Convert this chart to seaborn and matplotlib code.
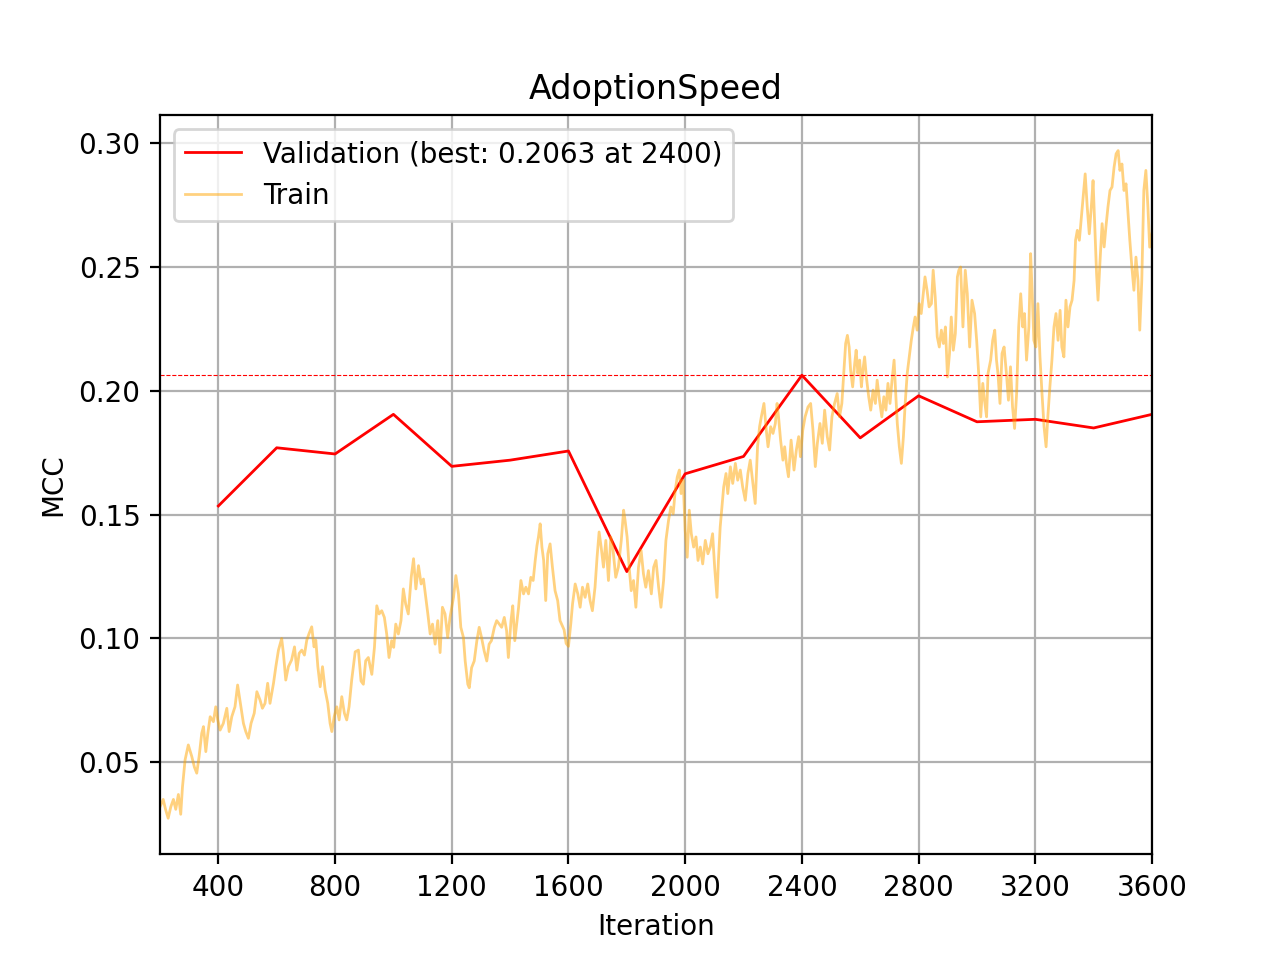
import matplotlib
matplotlib.use("Agg")
import matplotlib.pyplot as plt
import seaborn as sns

# validation MCC, evaluated every 200 iterations
val_iter = [400, 600, 800, 1000, 1200, 1400, 1600, 1800, 2000, 2200,
            2400, 2600, 2800, 3000, 3200, 3400, 3600]
val_mcc = [0.1535, 0.177, 0.1745, 0.1905, 0.1695, 0.172, 0.1757, 0.127, 0.1665,
           0.1735, 0.2063, 0.181, 0.198, 0.1875, 0.1885, 0.185, 0.1905]
best_mcc = 0.2063
best_iter = 2400

# train MCC
train_iter = [
    200, 211, 219, 228, 237, 246, 254, 263, 271, 277, 286, 297, 309, 318, 326, 334,
    343, 349, 357, 364, 372, 383, 391, 398, 406, 417, 429, 437, 446, 457, 466, 474,
    486, 494, 503, 512, 523, 532, 543, 551, 560, 569, 577, 589, 597, 606, 617, 623,
    631, 640, 651, 661, 669, 677, 686, 695, 703, 711, 720, 728, 734, 741, 749, 757,
    766, 775, 783, 789, 797, 806, 814, 823, 832, 840, 848, 857, 869, 880, 889, 897,
    905, 914, 926, 935, 943, 951, 960, 969, 977, 985, 994, 1001, 1008, 1017, 1026,
    1034, 1042, 1051, 1061, 1069, 1077, 1086, 1095, 1103, 1111, 1118, 1126, 1134,
    1143, 1152, 1160, 1168, 1177, 1186, 1194, 1206, 1214, 1223, 1231, 1240, 1246,
    1255, 1260, 1268, 1277, 1286, 1294, 1302, 1311, 1320, 1328, 1336, 1346, 1354,
    1363, 1371, 1380, 1388, 1394, 1403, 1409, 1416, 1429, 1437, 1446, 1454, 1463,
    1471, 1479, 1486, 1492, 1497, 1503, 1509, 1515, 1522, 1529, 1537, 1545, 1554,
    1563, 1571, 1585, 1592, 1600, 1608, 1614, 1623, 1632, 1640, 1648, 1657, 1666,
    1674, 1682, 1691, 1698, 1705, 1712, 1720, 1728, 1737, 1745, 1753, 1762, 1771,
    1781, 1789, 1794, 1801, 1808, 1815, 1823, 1831, 1840, 1849, 1857, 1865, 1874,
    1884, 1892, 1900, 1909, 1917, 1926, 1934, 1943, 1951, 1959, 1966, 1973, 1980,
    1986, 1993, 2000, 2007, 2014, 2021, 2029, 2037, 2044, 2052, 2060, 2069, 2078,
    2086, 2094, 2101, 2109, 2114, 2120, 2126, 2132, 2140, 2146, 2155, 2163, 2172,
    2180, 2189, 2197, 2206, 2215, 2223, 2231, 2240, 2248, 2255, 2261, 2270, 2278,
    2284, 2293, 2301, 2309, 2315, 2320, 2327, 2335, 2341, 2347, 2354, 2363, 2373,
    2381, 2389, 2395, 2403, 2411, 2421, 2430, 2438, 2446, 2453, 2462, 2470, 2478,
    2487, 2495, 2503, 2512, 2521, 2529, 2537, 2544, 2550, 2556, 2562, 2567, 2574,
    2581, 2586, 2592, 2598, 2604, 2609, 2615, 2621, 2629, 2636, 2644, 2652, 2658,
    2666, 2674, 2681, 2688, 2695, 2702, 2709, 2716, 2721, 2727, 2734, 2741, 2748,
    2754, 2761, 2768, 2775, 2782, 2788, 2795, 2802, 2809, 2815, 2822, 2829, 2836,
    2844, 2850, 2857, 2864, 2871, 2878, 2885, 2892, 2899, 2906, 2912, 2919, 2926,
    2933, 2938, 2944, 2952, 2960, 2967, 2975, 2983, 2992, 2999, 3006, 3013, 3020,
    3026, 3033, 3038, 3047, 3054, 3061, 3067, 3072, 3079, 3086, 3093, 3101, 3108,
    3115, 3122, 3129, 3136, 3143, 3150, 3157, 3163, 3170, 3178, 3184, 3189, 3195,
    3202, 3209, 3216, 3223, 3230, 3237, 3243, 3250, 3257, 3264, 3271, 3278, 3285,
    3291, 3298, 3305, 3312, 3319, 3326, 3333, 3338, 3344, 3351, 3357, 3365, 3371,
    3378, 3385, 3392, 3398, 3404, 3410, 3415, 3422, 3429, 3436, 3442, 3449, 3456,
    3463, 3470, 3477, 3484, 3490, 3497, 3504, 3511, 3518, 3524, 3531, 3538, 3545,
    3552, 3558, 3565, 3572, 3579, 3586, 3592, 3600]
train_mcc = [
    0.032, 0.035, 0.031, 0.0274, 0.032, 0.035, 0.031, 0.037, 0.029, 0.040, 0.051,
    0.057, 0.0523, 0.048, 0.0456, 0.0523, 0.0617, 0.0644, 0.0543, 0.0617, 0.0684,
    0.0664, 0.0724, 0.0671, 0.063, 0.0657, 0.0718, 0.0624, 0.0684, 0.0724, 0.0812,
    0.0751, 0.0657, 0.0624, 0.0597, 0.0657, 0.0698, 0.0785, 0.0751, 0.0718, 0.0738,
    0.0819, 0.0738, 0.0819, 0.0886, 0.0953, 0.100, 0.094, 0.0832, 0.0886, 0.0913,
    0.0966, 0.0872, 0.094, 0.0953, 0.0933, 0.0993, 0.102, 0.1047, 0.0966, 0.0993,
    0.0886, 0.0805, 0.0886, 0.0792, 0.0738, 0.0657, 0.0624, 0.0684, 0.0724, 0.0671,
    0.0765, 0.0698, 0.0671, 0.0724, 0.0832, 0.0946, 0.0953, 0.0828, 0.0815, 0.091,
    0.0923, 0.0855, 0.0964, 0.1132, 0.1099, 0.1112, 0.1085, 0.1018, 0.0923, 0.0991,
    0.0964, 0.1058, 0.1018, 0.1072, 0.120, 0.1139, 0.1099, 0.1247, 0.1322, 0.120,
    0.1294, 0.122, 0.124, 0.1166, 0.1099, 0.1018, 0.1058, 0.0977, 0.1072, 0.0943,
    0.1126, 0.1099, 0.1004, 0.1085, 0.1166, 0.1254, 0.118, 0.1045, 0.1004, 0.0909,
    0.0815, 0.0801, 0.0882, 0.0909, 0.0991, 0.1045, 0.1004, 0.095, 0.0909, 0.0977,
    0.0991, 0.1045, 0.1072, 0.1058, 0.1045, 0.1085, 0.1031, 0.0923, 0.1072, 0.1132,
    0.0991, 0.1126, 0.1234, 0.118, 0.1207, 0.118, 0.1247, 0.1234, 0.1315, 0.1375,
    0.1409, 0.1463, 0.1369, 0.1315, 0.1153, 0.1342, 0.1382, 0.1288, 0.1193, 0.1153,
    0.1072, 0.1035, 0.098, 0.0968, 0.106, 0.114, 0.122, 0.118, 0.1126, 0.1207,
    0.1166, 0.122, 0.1153, 0.1112, 0.1207, 0.1328, 0.143, 0.1369, 0.1288, 0.1396,
    0.1234, 0.141, 0.1355, 0.1247, 0.1288, 0.1396, 0.1518, 0.1477, 0.141, 0.1288,
    0.1193, 0.1234, 0.1126, 0.1288, 0.1355, 0.1261, 0.1207, 0.1274, 0.118, 0.1288,
    0.1315, 0.1207, 0.1126, 0.1234, 0.1396, 0.1477, 0.1531, 0.1504, 0.1599, 0.1653,
    0.168, 0.1585, 0.1639, 0.1437, 0.1328, 0.1518, 0.1423, 0.1369, 0.141, 0.1315,
    0.1369, 0.1301, 0.1396, 0.1342, 0.1369, 0.1423, 0.1288, 0.1166, 0.1315, 0.145,
    0.1531, 0.1612, 0.1666, 0.1585, 0.1693, 0.1626, 0.1707, 0.1639, 0.168, 0.1612,
    0.1558, 0.1666, 0.172, 0.1639, 0.1545, 0.1774, 0.1855, 0.1895, 0.1949, 0.1841,
    0.1774, 0.1855, 0.1828, 0.1868, 0.1949, 0.1895, 0.1801, 0.172, 0.1774, 0.1707,
    0.1653, 0.1801, 0.168, 0.1761, 0.1815, 0.1734, 0.1841, 0.1895, 0.1935, 0.1949,
    0.1841, 0.1694, 0.1788, 0.1868, 0.1788, 0.1922, 0.1815, 0.1761, 0.1895, 0.1949,
    0.1989, 0.1895, 0.1949, 0.2083, 0.2191, 0.2224, 0.2177, 0.2083, 0.2016, 0.211,
    0.2164, 0.207, 0.2124, 0.2016, 0.2083, 0.2137, 0.2056, 0.1976, 0.1922, 0.2003,
    0.1949, 0.2043, 0.1962, 0.1895, 0.1976, 0.1922, 0.203, 0.1949, 0.2043, 0.2124,
    0.2003, 0.1868, 0.1774, 0.1707, 0.1815, 0.1949, 0.207, 0.2137, 0.2204, 0.2258,
    0.2298, 0.2245, 0.2352, 0.2312, 0.2379, 0.246, 0.2406, 0.2339, 0.2352, 0.2487,
    0.2379, 0.2218, 0.2177, 0.2245, 0.2191, 0.2258, 0.2056, 0.2151, 0.2298, 0.2164,
    0.2231, 0.246, 0.2487, 0.25, 0.2258, 0.2487, 0.2392, 0.2177, 0.2366, 0.2312,
    0.2204, 0.207, 0.1895, 0.203, 0.1962, 0.1895, 0.207, 0.2124, 0.2204, 0.2245,
    0.2124, 0.207, 0.1949, 0.2151, 0.2177, 0.207, 0.1962, 0.2097, 0.1935, 0.1848,
    0.1989, 0.2258, 0.2392, 0.2258, 0.2312, 0.2124, 0.2258, 0.2554, 0.2406, 0.2204,
    0.2177, 0.2352, 0.2137, 0.1989, 0.1855, 0.1774, 0.1895, 0.2016, 0.2124, 0.2258,
    0.2312, 0.2204, 0.2325, 0.2177, 0.2137, 0.2366, 0.2258, 0.2339, 0.2366, 0.2446,
    0.2608, 0.2648, 0.2608, 0.2688, 0.2796, 0.2876, 0.2742, 0.2634, 0.2742, 0.2849,
    0.2661, 0.2473, 0.2366, 0.2527, 0.2675, 0.2581, 0.2661, 0.2742, 0.2809, 0.2823,
    0.2903, 0.2957, 0.297, 0.289, 0.2916, 0.2809, 0.2836, 0.2715, 0.2608, 0.25,
    0.2406, 0.254, 0.2446, 0.2245, 0.2446, 0.2809, 0.289, 0.2742, 0.258, 0.2634]

fig, ax = plt.subplots(figsize=(6.4, 4.8), dpi=200)

sns.lineplot(x=val_iter, y=val_mcc, ax=ax, color="red", linewidth=1,
             label=f"Validation (best: {best_mcc:.4f} at {best_iter})")
sns.lineplot(x=train_iter, y=train_mcc, ax=ax, color="orange", alpha=0.5,
             linewidth=1.0, label="Train")
ax.axhline(best_mcc, color="red", linestyle="--", linewidth=0.4)

ax.set_xlim(200, 3600)
ax.set_ylim(0.0128, 0.3113)
ax.set_xticks(range(400, 3601, 400))
ax.grid(True)
ax.set_title("AdoptionSpeed")
ax.set_xlabel("Iteration")
ax.set_ylabel("MCC")
ax.legend(loc="upper left")

fig.savefig("out.png")
